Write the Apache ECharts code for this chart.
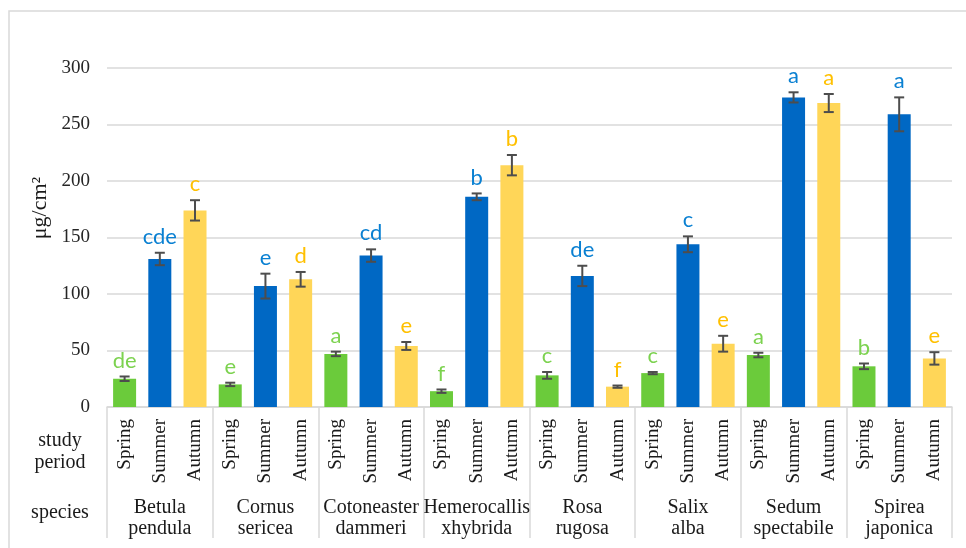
<!DOCTYPE html>
<html>
<head>
<meta charset="utf-8">
<script src="https://cdn.jsdelivr.net/npm/echarts@6/dist/echarts.min.js"></script>
<style>
html,body{margin:0;padding:0;background:#fff;}
#chart{width:966px;height:548px;}
</style>
</head>
<body>
<div id="chart"></div>
<script>
// Species (two-line labels) and sampling periods
const species = ['Betula\npendula', 'Cornus\nsericea', 'Cotoneaster\ndammeri', 'Hemerocallis\nxhybrida',
  'Rosa\nrugosa', 'Salix\nalba', 'Sedum\nspectabile', 'Spirea\njaponica'];
const periods = ['Spring', 'Summer', 'Autumn'];

// Mean values (µg/cm²) per species for each period
const spring = [25, 20, 47, 14, 28, 30, 46, 36];
const summer = [131, 107, 134, 186, 116, 144, 274, 259];
const autumn = [174, 113, 54, 214, 18, 56, 269, 43];

// Error bar half-widths
const springErr = [2, 1.5, 2, 1.5, 3, 1, 2, 2.5];
const summerErr = [5.5, 11, 5.5, 3, 9, 7, 4.5, 15];
const autumnErr = [9, 6.5, 3.5, 9, 1, 7, 8, 5.5];

// Significance group letters
const springLetters = ['de', 'e', 'a', 'f', 'c', 'c', 'a', 'b'];
const summerLetters = ['cde', 'e', 'cd', 'b', 'de', 'c', 'a', 'a'];
const autumnLetters = ['c', 'd', 'e', 'b', 'f', 'e', 'a', 'e'];

const yTicks = { min: 0, max: 300, interval: 50 };

const seriesDefs = [
  { name: 'Spring', values: spring, err: springErr, letters: springLetters, color: '#6bcb3b', textColor: '#7cd24f' },
  { name: 'Summer', values: summer, err: summerErr, letters: summerLetters, color: '#0068c4', textColor: '#0a80d2' },
  { name: 'Autumn', values: autumn, err: autumnErr, letters: autumnLetters, color: '#ffd658', textColor: '#ffc000' }
];

// One category slot per bar: species × period
const slotLabels = [];
species.forEach(() => periods.forEach(p => slotLabels.push(p)));

const serif = 'Liberation Serif';
const sans = 'Lato';

const barSeries = seriesDefs.map((s, pi) => {
  const data = slotLabels.map(() => '-');
  s.values.forEach((v, si) => { data[si * 3 + pi] = v; });
  return {
    name: s.name, type: 'bar', xAxisIndex: 0, data: data,
    barWidth: 23, barGap: '-100%',
    itemStyle: { color: s.color },
    silent: true
  };
});

const errData = [];
seriesDefs.forEach((s, pi) => {
  s.values.forEach((v, si) => {
    errData.push([si * 3 + pi, v, s.err[si], s.letters[si], pi]);
  });
});

const errSeries = {
  type: 'custom', xAxisIndex: 0, data: errData, z: 10, silent: true,
  renderItem: function (params, api) {
    const x = api.value(0), v = api.value(1), e = api.value(2);
    const item = errData[params.dataIndex];
    const hi = api.coord([x, v + e]);
    const lo = api.coord([x, v - e]);
    const cap = 5;
    const stroke = { stroke: '#4d4d4d', lineWidth: 2 };
    return {
      type: 'group',
      children: [
        { type: 'line', shape: { x1: hi[0], y1: hi[1], x2: lo[0], y2: lo[1] }, style: stroke },
        { type: 'line', shape: { x1: hi[0] - cap, y1: hi[1], x2: hi[0] + cap, y2: hi[1] }, style: stroke },
        { type: 'line', shape: { x1: lo[0] - cap, y1: lo[1], x2: lo[0] + cap, y2: lo[1] }, style: stroke },
        { type: 'text', x: hi[0], y: hi[1] - 5,
          style: { text: item[3], fill: seriesDefs[item[4]].textColor, fontFamily: sans, fontSize: 22,
            textAlign: 'center', textVerticalAlign: 'bottom' } }
      ]
    };
  }
};

const chart = echarts.init(document.getElementById('chart'));
chart.setOption({
  animation: false,
  backgroundColor: '#fff',
  grid: { left: 107, right: 14, top: 68, bottom: 141, containLabel: false },
  xAxis: [
    {
      type: 'category', data: slotLabels, position: 'bottom',
      axisLine: { show: true, lineStyle: { color: '#d9d9d9', width: 1.5 } },
      axisTick: { show: false },
      axisLabel: { interval: 0, rotate: 90, margin: 12, color: '#1a1a1a', fontFamily: serif, fontSize: 19 }
    },
    {
      type: 'category', data: species, position: 'bottom',
      axisLine: { show: false },
      axisTick: { show: true, length: 131, interval: 0, lineStyle: { color: '#d9d9d9', width: 1.5 } },
      axisLabel: { interval: 0, margin: 90, lineHeight: 21, color: '#1a1a1a', fontFamily: serif, fontSize: 20 }
    }
  ],
  yAxis: {
    type: 'value', min: yTicks.min, max: yTicks.max, interval: yTicks.interval,
    axisLine: { show: false }, axisTick: { show: false },
    axisLabel: { margin: 17, color: '#262626', fontFamily: serif, fontSize: 19 },
    splitLine: { lineStyle: { color: '#d9d9d9', width: 1.5 } }
  },
  graphic: [
    { type: 'rect', shape: { x: 9, y: 11, width: 1200, height: 1000 },
      style: { fill: 'none', stroke: '#d9d9d9', lineWidth: 1.5 }, silent: true },
    { type: 'text', x: 40, y: 208, rotation: Math.PI / 2,
      style: { text: 'μg/cm²', fontFamily: serif, fontSize: 22, fill: '#1a1a1a', textAlign: 'center',
        textVerticalAlign: 'middle' } },
    { type: 'text', x: 60, y: 452,
      style: { text: 'study\nperiod', fontFamily: serif, fontSize: 20, fill: '#1a1a1a', textAlign: 'center',
        textVerticalAlign: 'middle', lineHeight: 22 } },
    { type: 'text', x: 60, y: 513,
      style: { text: 'species', fontFamily: serif, fontSize: 20, fill: '#1a1a1a', textAlign: 'center',
        textVerticalAlign: 'middle' } }
  ],
  series: barSeries.concat([errSeries])
});
</script>
</body>
</html>
